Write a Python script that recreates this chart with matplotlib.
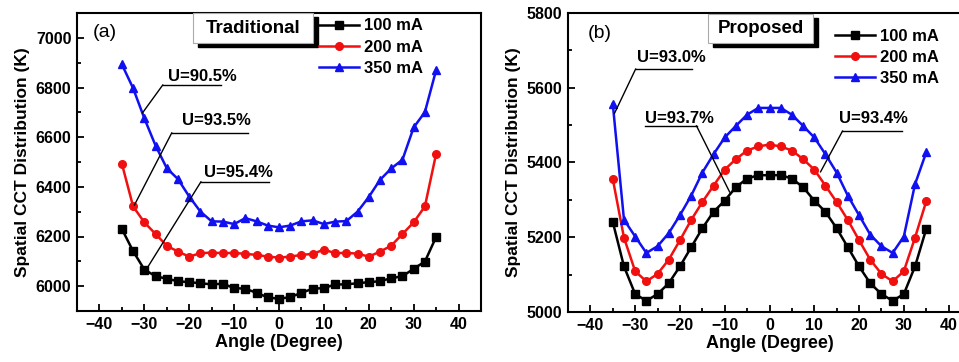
import matplotlib
matplotlib.use("Agg")
import matplotlib.pyplot as plt
from matplotlib.patches import Rectangle
from matplotlib.ticker import MultipleLocator

plt.rcParams['font.family'] = ['Liberation Sans', 'DejaVu Sans']

angles = [-35, -32.5, -30, -27.5, -25, -22.5, -20, -17.5, -15, -12.5, -10, -7.5, -5, -2.5,
          0, 2.5, 5, 7.5, 10, 12.5, 15, 17.5, 20, 22.5, 25, 27.5, 30, 32.5, 35]
labels = ["100 mA", "200 mA", "350 mA"]

# (a) traditional
trad_100 = [6230, 6141, 6067, 6040, 6030, 6020, 6016, 6012, 6007, 6010, 5992, 5990, 5973, 5955,
            5949, 5956, 5973, 5990, 5992, 6007, 6007, 6012, 6016, 6020, 6032, 6040, 6070, 6099, 6198]
trad_200 = [6493, 6321, 6257, 6210, 6163, 6139, 6119, 6133, 6135, 6133, 6134, 6130, 6126, 6119,
            6115, 6119, 6126, 6130, 6147, 6133, 6134, 6131, 6119, 6139, 6163, 6210, 6257, 6321, 6533]
trad_350 = [6893, 6797, 6676, 6566, 6475, 6431, 6361, 6300, 6261, 6260, 6250, 6274, 6261, 6244,
            6237, 6244, 6261, 6265, 6250, 6260, 6262, 6300, 6359, 6428, 6474, 6509, 6639, 6701, 6870]

# (b) proposed
prop_100 = [5241, 5122, 5048, 5030, 5048, 5077, 5122, 5173, 5224, 5268, 5298, 5334, 5357, 5366,
            5366, 5366, 5357, 5334, 5298, 5268, 5224, 5173, 5122, 5077, 5048, 5030, 5048, 5122, 5222]
prop_200 = [5356, 5199, 5109, 5082, 5102, 5140, 5192, 5246, 5294, 5338, 5381, 5409, 5432, 5443,
            5448, 5443, 5432, 5409, 5381, 5338, 5294, 5246, 5192, 5140, 5102, 5082, 5109, 5199, 5296]
prop_350 = [5557, 5247, 5202, 5158, 5176, 5211, 5259, 5311, 5373, 5422, 5467, 5498, 5528, 5546,
            5546, 5546, 5528, 5498, 5467, 5422, 5373, 5311, 5259, 5207, 5176, 5158, 5202, 5342, 5427]

colors = ["black", "#f01010", "#1010f0"]
markers = ["s", "o", "^"]

fig = plt.figure(figsize=(9.59, 3.62), dpi=100)
ax1 = fig.add_axes([77 / 959, 51 / 362, 404 / 959, 298 / 362])
ax2 = fig.add_axes([568 / 959, 50 / 362, 403 / 959, 299 / 362])


def style(ax, ylim, ymajor):
    ax.set_xlim(-45, 45)
    ax.set_ylim(*ylim)
    ax.xaxis.set_major_locator(MultipleLocator(10))
    ax.xaxis.set_minor_locator(MultipleLocator(5))
    ax.yaxis.set_major_locator(MultipleLocator(ymajor))
    ax.yaxis.set_minor_locator(MultipleLocator(ymajor / 2))
    ax.tick_params(which='both', direction='in', width=1.3)
    ax.tick_params(which='major', length=5, labelsize=11.5, pad=4)
    ax.tick_params(which='minor', length=3)
    for lab in ax.get_xticklabels() + ax.get_yticklabels():
        lab.set_fontweight('bold')
    for sp in ax.spines.values():
        sp.set_linewidth(1.5)
    ax.set_xlabel("Angle (Degree)", fontsize=13, fontweight='bold', labelpad=2)
    ax.set_ylabel("Spatial CCT Distribution (K)", fontsize=12.5, fontweight='bold', labelpad=4)


def tag_box(ax, x0, x1, y0, y1, text):
    ax.add_patch(Rectangle((x0 + 0.013, y0 - 0.014), x1 - x0, y1 - y0, transform=ax.transAxes,
                           facecolor='black', edgecolor='black', zorder=5, clip_on=False))
    ax.add_patch(Rectangle((x0, y0), x1 - x0, y1 - y0, transform=ax.transAxes,
                           facecolor='white', edgecolor='#aaaaaa', linewidth=0.8, zorder=6, clip_on=False))
    ax.text((x0 + x1) / 2, (y0 + y1) / 2, text, transform=ax.transAxes, ha='center', va='center',
            fontsize=13.5, fontweight='bold', zorder=7)


def u_label(ax, text, tx, ty, line_x, line_y, leader):
    ax.text(tx, ty, text, fontsize=12, fontweight='bold', va='center', ha='left')
    ax.plot(line_x, [line_y, line_y], color='black', lw=1.0)
    ax.plot([leader[0][0], leader[1][0]], [leader[0][1], leader[1][1]], color='black', lw=1.0)


for ax, series in [(ax1, [trad_100, trad_200, trad_350]), (ax2, [prop_100, prop_200, prop_350])]:
    for vals, c, m, lab in zip(series, colors, markers, labels):
        ax.plot(angles, vals, color=c, marker=m, markersize=5.5, lw=1.8, label=lab)

style(ax1, (5900, 7100), 200)
style(ax2, (5000, 5800), 200)

ax1.legend(loc='upper left', bbox_to_anchor=(0.60, 0.982), frameon=False,
           prop={'weight': 'bold', 'size': 12}, handlelength=2.4, handletextpad=0.3,
           labelspacing=0.38, borderpad=0, borderaxespad=0, numpoints=1)
ax2.legend(loc='upper left', bbox_to_anchor=(0.6625, 0.948), frameon=False,
           prop={'weight': 'bold', 'size': 12}, handlelength=2.4, handletextpad=0.3,
           labelspacing=0.38, borderpad=0, borderaxespad=0, numpoints=1)

tag_box(ax1, 0.287, 0.584, 0.899, 1.0, "Traditional")
tag_box(ax2, 0.347, 0.608, 0.900, 0.997, "Proposed")

ax1.text(0.04, 0.933, "(a)", transform=ax1.transAxes, fontsize=14, va='center')
ax2.text(0.05, 0.933, "(b)", transform=ax2.transAxes, fontsize=14, va='center')

u_label(ax1, "U=90.5%", -24.8, 6846, [-25.9, -13.0], 6810, [(-25.9, 6810), (-30.4, 6698)])
u_label(ax1, "U=93.5%", -21.7, 6669, [-23.9, -6.9], 6617, [(-23.9, 6617), (-32.2, 6327)])
u_label(ax1, "U=95.4%", -16.8, 6457, [-17.4, -2.2], 6420, [(-17.4, 6420), (-29.3, 6075)])

u_label(ax2, "U=93.0%", -29.7, 5680, [-29.9, -17.2], 5650, [(-29.9, 5650), (-34.6, 5532)])
u_label(ax2, "U=93.7%", -27.9, 5519, [-27.7, -16.3], 5498, [(-16.3, 5498), (-8.9, 5321)])
u_label(ax2, "U=93.4%", 15.6, 5519, [16.3, 29.5], 5484, [(16.3, 5484), (11.4, 5375)])

fig.savefig("out.png", dpi=100)
